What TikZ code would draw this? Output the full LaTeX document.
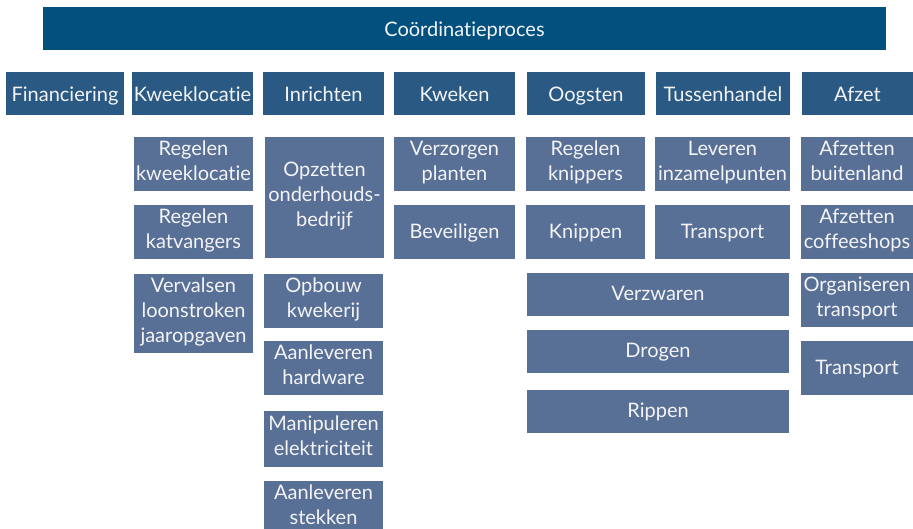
\documentclass[tikz,border=0pt]{standalone}
\usepackage{fontspec}
\setmainfont{Lato}[Ligatures=NoCommon]
\definecolor{barblue}{RGB}{2,80,126}
\definecolor{phaseblue}{RGB}{42,89,131}
\definecolor{taskblue}{RGB}{88,111,150}
\definecolor{lbltext}{RGB}{244,244,246}
% \blk{style}{name}{x1}{y1}{x2}{y2}{text}: a block given by its corners
\newcommand\blk[7]{%
  \node[#1, minimum width={#5-#3}, minimum height={#6-#4}]
    (#2) at ({(#3+#5)/2},{(#4+#6)/2}) {#7};}
% invisible rule fixing the height of the first line and depth of the last
\newcommand\linestrut[2]{\leavevmode\vrule height #1pt depth #2pt width 0pt\relax}
\begin{document}
\begin{tikzpicture}[x=1pt,y=-1pt,
  base/.style={inner sep=0pt, outer sep=0pt, align=center, text=lbltext,
    font=\fontsize{20}{25}\selectfont},
  struts/.style n args={2}{execute at begin node=\linestrut{#1}{#2},
    execute at end node=\linestrut{#1}{#2}},
  barbox/.style={base, struts={19.5}{3.7}, fill=barblue},
  phasebox/.style={base, struts={20}{3.2}, fill=phaseblue},
  taskbox/.style={base, struts={18.5}{6}, fill=taskblue}]
\useasboundingbox (0,0) rectangle (913,529);
\clip (0,0) rectangle (913,529);

% coordinating process across all phases
\blk{barbox}{coord}{43}{7}{886}{50}{Coördinatieproces}

% phases
\blk{phasebox}{fin}{6}{72}{124}{115}{Financiering}
\blk{phasebox}{kwl}{132}{72}{253}{115}{Kweeklocatie}
\blk{phasebox}{inr}{263}{72}{384}{115}{Inrichten}
\blk{phasebox}{kwk}{394}{72}{515}{115}{Kweken}
\blk{phasebox}{oog}{527}{72}{645}{115}{Oogsten}
\blk{phasebox}{tus}{656}{72}{790}{115}{Tussenhandel}
\blk{phasebox}{afz}{802}{72}{913}{115}{Afzet}

% Kweeklocatie
\blk{taskbox}{kwl1}{134}{137}{253}{191}{Regelen\\kweeklocatie}
\blk{taskbox}{kwl2}{134}{205}{253}{259}{Regelen\\katvangers}
\blk{taskbox}{kwl3}{134}{274}{253}{353}{Vervalsen\\loonstroken\\jaaropgaven}

% Inrichten
\blk{taskbox}{inr1}{265}{137}{384}{258}{Opzetten\\onderhouds-\\bedrijf}
\blk{taskbox}{inr2}{264}{274}{383}{328}{Opbouw\\kwekerij}
\blk{taskbox}{inr3}{264}{341}{383}{395}{Aanleveren\\hardware}
\blk{taskbox}{inr4}{264}{411}{383}{467}{Manipuleren\\elektriciteit}
\blk{taskbox}{inr5}{264}{481}{383}{535}{Aanleveren\\stekken}

% Kweken
\blk{taskbox}{kwk1}{394}{137}{515}{191}{Verzorgen\\planten}
\blk{taskbox}{kwk2}{394}{205}{515}{259}{Beveiligen}

% Oogsten
\blk{taskbox}{oog1}{526}{137}{645}{191}{Regelen\\knippers}
\blk{taskbox}{oog2}{526}{205}{645}{259}{Knippen}
\blk{taskbox}{oog3}{527}{273}{789}{316}{Verzwaren}
\blk{taskbox}{oog4}{527}{330}{789}{373}{Drogen}
\blk{taskbox}{oog5}{527}{390}{789}{433}{Rippen}

% Tussenhandel
\blk{taskbox}{tus1}{655}{137}{790}{191}{Leveren\\inzamelpunten}
\blk{taskbox}{tus2}{655}{205}{790}{259}{Transport}

% Afzet
\blk{taskbox}{afz1}{801}{137}{913}{191}{Afzetten\\buitenland}
\blk{taskbox}{afz2}{801}{205}{913}{259}{Afzetten\\coffeeshops}
\blk{taskbox}{afz3}{801}{273}{913}{327}{Organiseren\\transport}
\blk{taskbox}{afz4}{801}{341}{913}{395}{Transport}
\end{tikzpicture}
\end{document}
